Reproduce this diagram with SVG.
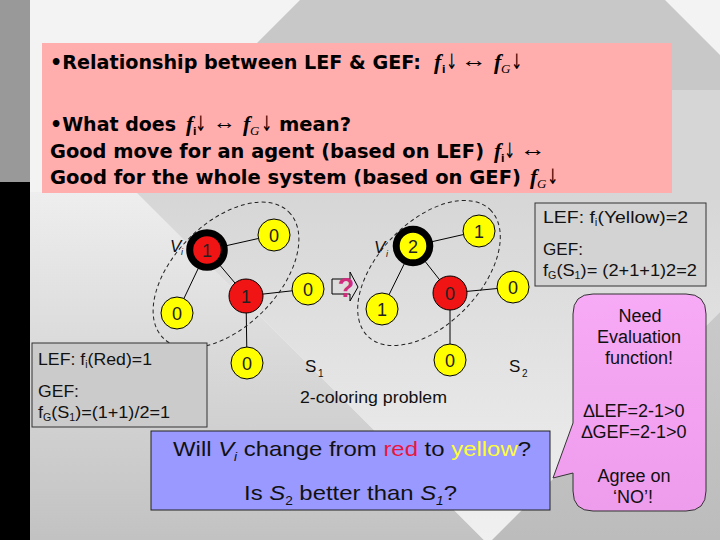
<svg xmlns="http://www.w3.org/2000/svg" width="720" height="540" viewBox="0 0 720 540">
<defs>
<linearGradient id="gLeft" x1="0" y1="192" x2="0" y2="540" gradientUnits="userSpaceOnUse">
<stop offset="0" stop-color="#eeeeee"/><stop offset="1" stop-color="#c2c2c2"/>
</linearGradient>
<linearGradient id="gMid" x1="0" y1="192" x2="0" y2="540" gradientUnits="userSpaceOnUse">
<stop offset="0" stop-color="#d6d6d6"/><stop offset="1" stop-color="#f0f0f0"/>
</linearGradient>
<linearGradient id="gRight" x1="0" y1="300" x2="0" y2="540" gradientUnits="userSpaceOnUse">
<stop offset="0" stop-color="#cacaca"/><stop offset="1" stop-color="#bcbcbc"/>
</linearGradient>
<linearGradient id="gCall" x1="0" y1="294" x2="0" y2="511" gradientUnits="userSpaceOnUse">
<stop offset="0" stop-color="#f7aaf5"/><stop offset="1" stop-color="#ee9cec"/>
</linearGradient>
</defs>
<style>
.t{font-family:"Liberation Sans",Arial,sans-serif;fill:#111}
.pk{font-family:"DejaVu Sans",Verdana,sans-serif;font-weight:bold;font-size:19.5px;fill:#000}
.fi{font-family:"Liberation Serif","Times New Roman",serif;font-weight:bold;font-style:italic;font-size:22px;fill:#000}
.sb{font-family:"DejaVu Sans",sans-serif;font-weight:bold;font-size:10px;fill:#000}
.sg{font-family:"Liberation Serif",serif;font-style:italic;font-size:13px;fill:#000}
.ar{font-family:"Liberation Serif","DejaVu Serif",serif;font-size:22px;fill:#000}
.dn{font-family:"DejaVu Sans",sans-serif;font-size:17px;fill:#000}
.edge{stroke:#000;stroke-width:1;fill:none}
.yel{fill:#ffff00;stroke:#000;stroke-width:1}
.red{fill:#f01414;stroke:#000;stroke-width:1}
.ringR{fill:#f01414;stroke:#000;stroke-width:7}
.ringY{fill:#ffff00;stroke:#000;stroke-width:7}
.lbl{font-family:"Liberation Sans",Arial,sans-serif;font-size:18px;fill:#222;text-anchor:middle}
.dash{fill:none;stroke:#222;stroke-width:1;stroke-dasharray:4 3}
.box{stroke:#333;stroke-width:1}
</style>

<!-- background -->
<rect x="30" y="0" width="690" height="540" fill="#f3f3f3"/>
<polygon points="300,0 665,0 720,55 720,90 672,90 672,43 257,43" fill="#c8c8c8"/>
<polygon points="30,192 136,192 484,540 30,540" fill="url(#gLeft)"/>
<polygon points="136,192 672,192 672,90 720,90 720,312 492,540 484,540" fill="url(#gMid)"/>
<polygon points="720,312 720,540 492,540" fill="url(#gRight)"/>
<rect x="0" y="0" width="30" height="182" fill="#999999"/>
<rect x="0" y="182" width="30" height="358" fill="#000000"/>

<!-- title box -->
<g id="titlebox">
<rect x="42" y="43" width="630" height="150" fill="#ffadad"/>
<text class="pk" x="50" y="69" textLength="371" lengthAdjust="spacingAndGlyphs">•Relationship between LEF &amp; GEF:</text>
<text class="fi" x="434" y="69">f</text><text class="sb" x="442" y="73">i</text>
<text class="dn" x="446" y="69" transform="translate(446 69) scale(0.8 1.25) translate(-446 -69)">↓</text><text class="ar" x="461" y="67" textLength="26" lengthAdjust="spacingAndGlyphs">↔</text>
<text class="fi" x="494" y="69">f</text><text class="sg" x="501" y="73">G</text><text class="dn" x="511" y="69" transform="translate(511 69) scale(0.8 1.25) translate(-511 -69)">↓</text>

<text class="pk" x="50" y="131" textLength="126" lengthAdjust="spacingAndGlyphs">•What does</text>
<text class="fi" x="186" y="131">f</text><text class="sb" x="193" y="135">i</text>
<text class="dn" x="195" y="131" transform="translate(195 131) scale(0.8 1.25) translate(-195 -131)">↓</text><text class="ar" x="213" y="129" textLength="23" lengthAdjust="spacingAndGlyphs">↔</text>
<text class="fi" x="243" y="131">f</text><text class="sg" x="250" y="135">G</text><text class="dn" x="261" y="131" transform="translate(261 131) scale(0.8 1.25) translate(-261 -131)">↓</text>
<text class="pk" x="279" y="131" textLength="72" lengthAdjust="spacingAndGlyphs">mean?</text>

<text class="pk" x="50" y="158" textLength="434" lengthAdjust="spacingAndGlyphs">Good move for an agent (based on LEF)</text>
<text class="fi" x="494" y="158">f</text><text class="sb" x="501" y="162">i</text>
<text class="dn" x="504" y="158" transform="translate(504 158) scale(0.8 1.25) translate(-504 -158)">↓</text>
<text class="ar" x="520" y="156" font-weight="bold" textLength="26" lengthAdjust="spacingAndGlyphs">↔</text>

<text class="pk" x="50" y="184" textLength="471" lengthAdjust="spacingAndGlyphs">Good for the whole system (based on GEF)</text>
<text class="fi" x="530" y="184">f</text><text class="sg" x="537" y="188">G</text><text class="dn" x="547" y="184" transform="translate(547 184) scale(0.8 1.25) translate(-547 -184)">↓</text>
</g>

<!-- connectors -->
<g id="connectors">
<line class="edge" x1="207" y1="250" x2="274" y2="235"/>
<line class="edge" x1="207" y1="250" x2="177" y2="313"/>
<line class="edge" x1="207" y1="250" x2="246" y2="296"/>
<line class="edge" x1="246" y1="296" x2="308" y2="289"/>
<line class="edge" x1="246" y1="296" x2="247" y2="363"/>
<line class="edge" x1="413" y1="246" x2="479" y2="231"/>
<line class="edge" x1="413" y1="246" x2="382" y2="309"/>
<line class="edge" x1="413" y1="246" x2="450" y2="293"/>
<line class="edge" x1="450" y1="293" x2="513" y2="287"/>
<line class="edge" x1="450" y1="293" x2="450" y2="360"/>
</g>

<!-- dashed neighbourhoods -->
<ellipse class="dash" cx="226" cy="275" rx="89" ry="52" transform="rotate(-45 226 275)"/>
<ellipse class="dash" cx="429" cy="273" rx="88" ry="51" transform="rotate(-46 429 273)"/>

<!-- S1 nodes -->
<g id="s1-vi"><circle class="ringR" cx="207" cy="250" r="17.3"/><text class="lbl" x="207" y="256.5">1</text></g>
<g id="s1-a"><circle class="yel" cx="274" cy="235" r="16"/><text class="lbl" x="274" y="241.5">0</text></g>
<g id="s1-b"><circle class="red" cx="246" cy="296" r="17"/><text class="lbl" x="246" y="302.5">1</text></g>
<g id="s1-c"><circle class="yel" cx="308" cy="289" r="16"/><text class="lbl" x="308" y="295.5">0</text></g>
<g id="s1-d"><circle class="yel" cx="177" cy="313" r="16"/><text class="lbl" x="177" y="319.5">0</text></g>
<g id="s1-e"><circle class="yel" cx="247" cy="363" r="16"/><text class="lbl" x="247" y="369.5">0</text></g>

<!-- S2 nodes -->
<g id="s2-vi"><circle class="ringY" cx="413" cy="246" r="16.8"/><text class="lbl" x="413" y="252.5">2</text></g>
<g id="s2-a"><circle class="yel" cx="479" cy="231" r="16"/><text class="lbl" x="479" y="237.5">1</text></g>
<g id="s2-b"><circle class="red" cx="450" cy="293" r="17"/><text class="lbl" x="450" y="299.5">0</text></g>
<g id="s2-c"><circle class="yel" cx="513" cy="287" r="16"/><text class="lbl" x="513" y="293.5">0</text></g>
<g id="s2-d"><circle class="yel" cx="382" cy="309" r="16"/><text class="lbl" x="382" y="315.5">1</text></g>
<g id="s2-e"><circle class="yel" cx="450" cy="360" r="16"/><text class="lbl" x="450" y="366.5">0</text></g>

<!-- Vi labels and state labels -->
<g id="labels">
<text class="t" x="170" y="252" font-size="17" font-style="italic">V</text><text class="t" x="181" y="255" font-size="9" font-style="italic">i</text>
<text class="t" x="374" y="253" font-size="17" font-style="italic">V</text><text class="t" x="386" y="257" font-size="9" font-style="italic">i</text>
<text class="t" x="305" y="372" font-size="17">S</text><text class="t" x="318" y="377" font-size="10">1</text>
<text class="t" x="509" y="372" font-size="17">S</text><text class="t" x="522" y="377" font-size="10">2</text>
<text class="t" x="300" y="403" font-size="17" textLength="147" lengthAdjust="spacingAndGlyphs">2-coloring problem</text>
</g>

<!-- transition arrow -->
<g id="arrow">
<polygon points="332,279 350,279 350,272 358,287 350,301 350,294 332,294" fill="none" stroke="#000" stroke-width="1"/>
<text x="346" y="297" font-family="Liberation Sans,Arial,sans-serif" font-weight="bold" font-size="27" fill="#d02c7c" text-anchor="middle">?</text>
</g>

<!-- left info box -->
<g id="lefbox1">
<rect class="box" x="32" y="343" width="175" height="84" fill="#cbcbcb"/>
<text class="t" x="38" y="365" font-size="17" textLength="114" lengthAdjust="spacingAndGlyphs">LEF: f<tspan font-size="10" dy="3">i</tspan><tspan dy="-3">(Red)=1</tspan></text>
<text class="t" x="38" y="397" font-size="17" textLength="41" lengthAdjust="spacingAndGlyphs">GEF:</text>
<text class="t" x="38" y="418" font-size="17" textLength="132" lengthAdjust="spacingAndGlyphs">f<tspan font-size="10" dy="3">G</tspan><tspan dy="-3">(S</tspan><tspan font-size="10" dy="3">1</tspan><tspan dy="-3">)=(1+1)/2=1</tspan></text>
</g>

<!-- right info box -->
<g id="lefbox2">
<rect class="box" x="535" y="203" width="171" height="83" fill="#d3d3d3"/>
<text class="t" x="543" y="223" font-size="17" textLength="145" lengthAdjust="spacingAndGlyphs">LEF:   f<tspan font-size="10" dy="3">i</tspan><tspan dy="-3">(Yellow)=2</tspan></text>
<text class="t" x="543" y="255" font-size="17" textLength="40" lengthAdjust="spacingAndGlyphs">GEF:</text>
<text class="t" x="543" y="276" font-size="17" textLength="154" lengthAdjust="spacingAndGlyphs">f<tspan font-size="10" dy="3">G</tspan><tspan dy="-3">(S</tspan><tspan font-size="10" dy="3">1</tspan><tspan dy="-3">)= (2+1+1)2=2</tspan></text>
</g>

<!-- callout -->
<g id="callout">
<path d="M593,294 H686 Q706,294 706,314 V491 Q706,511 686,511 H593 Q573,511 573,491 V473 L553,478 L573,423 V314 Q573,294 593,294 Z" fill="url(#gCall)" stroke="#333" stroke-width="1"/>
<g class="t" font-size="18" text-anchor="middle">
<text x="640" y="322">Need</text>
<text x="639" y="343">Evaluation</text>
<text x="639" y="364">function!</text>
<text x="634" y="417">∆LEF=2-1&gt;0</text>
<text x="634" y="438">∆GEF=2-1&gt;0</text>
<text x="634" y="482">Agree on</text>
<text x="633" y="503">‘NO’!</text>
</g>
</g>

<!-- question box -->
<g id="question">
<rect x="151" y="431" width="399" height="79" fill="#9999ff" stroke="#222" stroke-width="1"/>
<text class="t" x="173" y="456" font-size="21" textLength="358" lengthAdjust="spacingAndGlyphs">Will <tspan font-style="italic">V</tspan><tspan font-style="italic" font-size="12" dy="5">i</tspan><tspan dy="-5"> change from </tspan><tspan fill="#e8173c">red</tspan> to <tspan fill="#ffff33">yellow</tspan>?</text>
<text class="t" x="244" y="500" font-size="21" textLength="213" lengthAdjust="spacingAndGlyphs">Is <tspan font-style="italic">S</tspan><tspan font-size="12" dy="5">2</tspan><tspan dy="-5"> better than </tspan><tspan font-style="italic">S</tspan><tspan font-style="italic" font-size="12" dy="5">1</tspan><tspan dy="-5">?</tspan></text>
</g>
</svg>
